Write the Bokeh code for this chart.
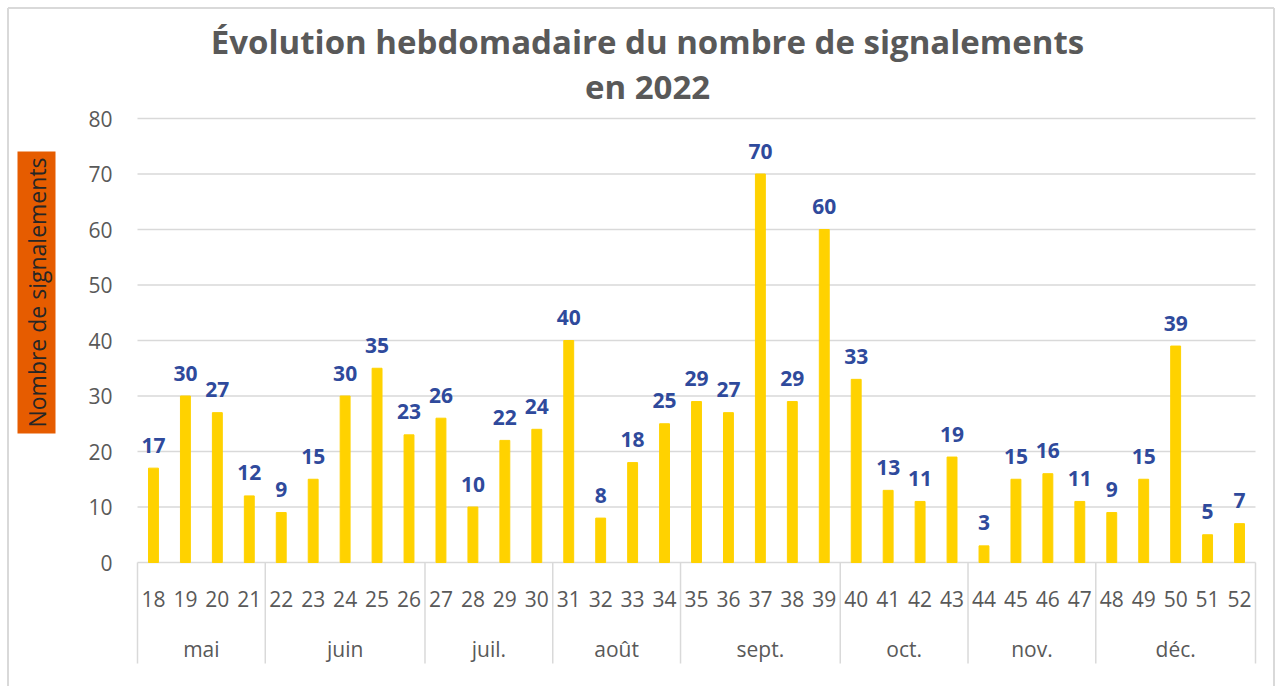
import math
from bokeh.plotting import figure
from bokeh.models import ColumnDataSource, Range1d
from bokeh.core.properties import value
from bokeh.embed import file_html
from bokeh.resources import INLINE

weeks = [str(w) for w in range(18, 53)]
counts = [17, 30, 27, 12, 9, 15, 30, 35, 23, 26, 10, 22, 24, 40, 8, 18, 25,
          29, 27, 70, 29, 60, 33, 13, 11, 19, 3, 15, 16, 11, 9, 15, 39, 5, 7]
months = ["mai", "juin", "juil.", "août", "sept.", "oct.", "nov.", "déc."]
month_sizes = [4, 5, 4, 4, 5, 4, 4, 5]
y_ticks = [0, 10, 20, 30, 40, 50, 60, 70, 80]
title_lines = ["Évolution hebdomadaire du nombre de signalements", "en 2022"]
y_title = "Nombre de signalements"

FONT = "Open Sans"
GRAY = "#595959"
LINE = "#d9d9d9"

W, H = 1277, 686
n = len(weeks)
xs = list(range(n))
src = ColumnDataSource(dict(x=xs, top=counts, lab=[str(c) for c in counts], week=weeks))

# pixel layout of the plotting area (frame covers whole canvas)
PX_LEFT, PX_RIGHT, PX_ZERO, PX_80 = 137, 1255, 562, 118
sx = (PX_RIGHT - PX_LEFT) / n          # px per category
sy = (PX_ZERO - PX_80) / 80.0          # px per unit
x0, x1 = -0.5, n - 0.5


def dx(px):
    return x0 + (px - PX_LEFT) / sx


def dy(py):
    return (PX_ZERO - py) / sy


p = figure(width=W, height=H, output_backend="svg", toolbar_location=None,
           x_range=Range1d(dx(0), dx(W)), y_range=Range1d(dy(H), dy(0)),
           x_axis_location=None, y_axis_location=None,
           min_border_left=0, min_border_right=0, min_border_top=0, min_border_bottom=0)
p.outline_line_color = None
p.grid.visible = False

# chart border (left, top, right)
bl, br, bt, bb = dx(7.5), dx(1273.5), dy(7.5), dy(H + 5)
p.multi_line(xs=[[bl, bl], [bl, br], [br, br]], ys=[[bb, bt], [bt, bt], [bt, bb]],
             line_color=LINE, line_width=2)

# horizontal gridlines (y ticks)
p.segment(x0=[x0] * len(y_ticks), y0=y_ticks, x1=[x1] * len(y_ticks), y1=y_ticks,
          line_color=LINE, line_width=1.5)
# y tick labels
p.text(x=[x0] * len(y_ticks), y=y_ticks, text=[str(t) for t in y_ticks],
       text_align="right", text_baseline="middle", x_offset=-25,
       text_font=value(FONT), text_font_size="21px", text_color=GRAY)

# bars
p.vbar(x="x", top="top", bottom=0, width=0.31, source=src, color="#FFD200")

# value labels
p.text(x="x", y="top", text="lab", source=src, text_align="center",
       text_baseline="middle", y_offset=-23, text_font=value(FONT),
       text_font_style="bold", text_font_size="21px", text_color="#2F4A9C")

# week labels
p.text(x="x", y=dy(598), text="week", source=src, text_align="center",
       text_baseline="middle", text_font=value(FONT), text_font_size="21px",
       text_color=GRAY)

# month separators and labels
bounds = [x0]
for s in month_sizes:
    bounds.append(bounds[-1] + s)
p.segment(x0=bounds, y0=[0] * len(bounds), x1=bounds, y1=[dy(663)] * len(bounds),
          line_color=LINE, line_width=1.5)
mid = [(bounds[i] + bounds[i + 1]) / 2 for i in range(len(months))]
p.text(x=mid, y=[dy(648)] * len(months), text=months, text_align="center",
       text_baseline="middle", text_font=value(FONT), text_font_size="21px",
       text_color=GRAY)

# title
p.text(x=[dx(647)] * 2, y=[dy(41), dy(86)], text=title_lines, text_align="center",
       text_baseline="middle", text_font=value(FONT), text_font_style="bold",
       text_font_size="33px", text_color=GRAY)

# y axis title box
p.rect(x=[dx(36)], y=[dy(292)], width=38, height=282, width_units="screen",
       height_units="screen", fill_color="#E65C00", line_color=None)
p.text(x=[dx(36)], y=[dy(292)], text=[y_title], angle=math.pi / 2,
       text_align="center", text_baseline="middle", text_font=value(FONT),
       text_font_size="23px", text_color="#262626")

open("out.html", "w").write(file_html(p, INLINE))
